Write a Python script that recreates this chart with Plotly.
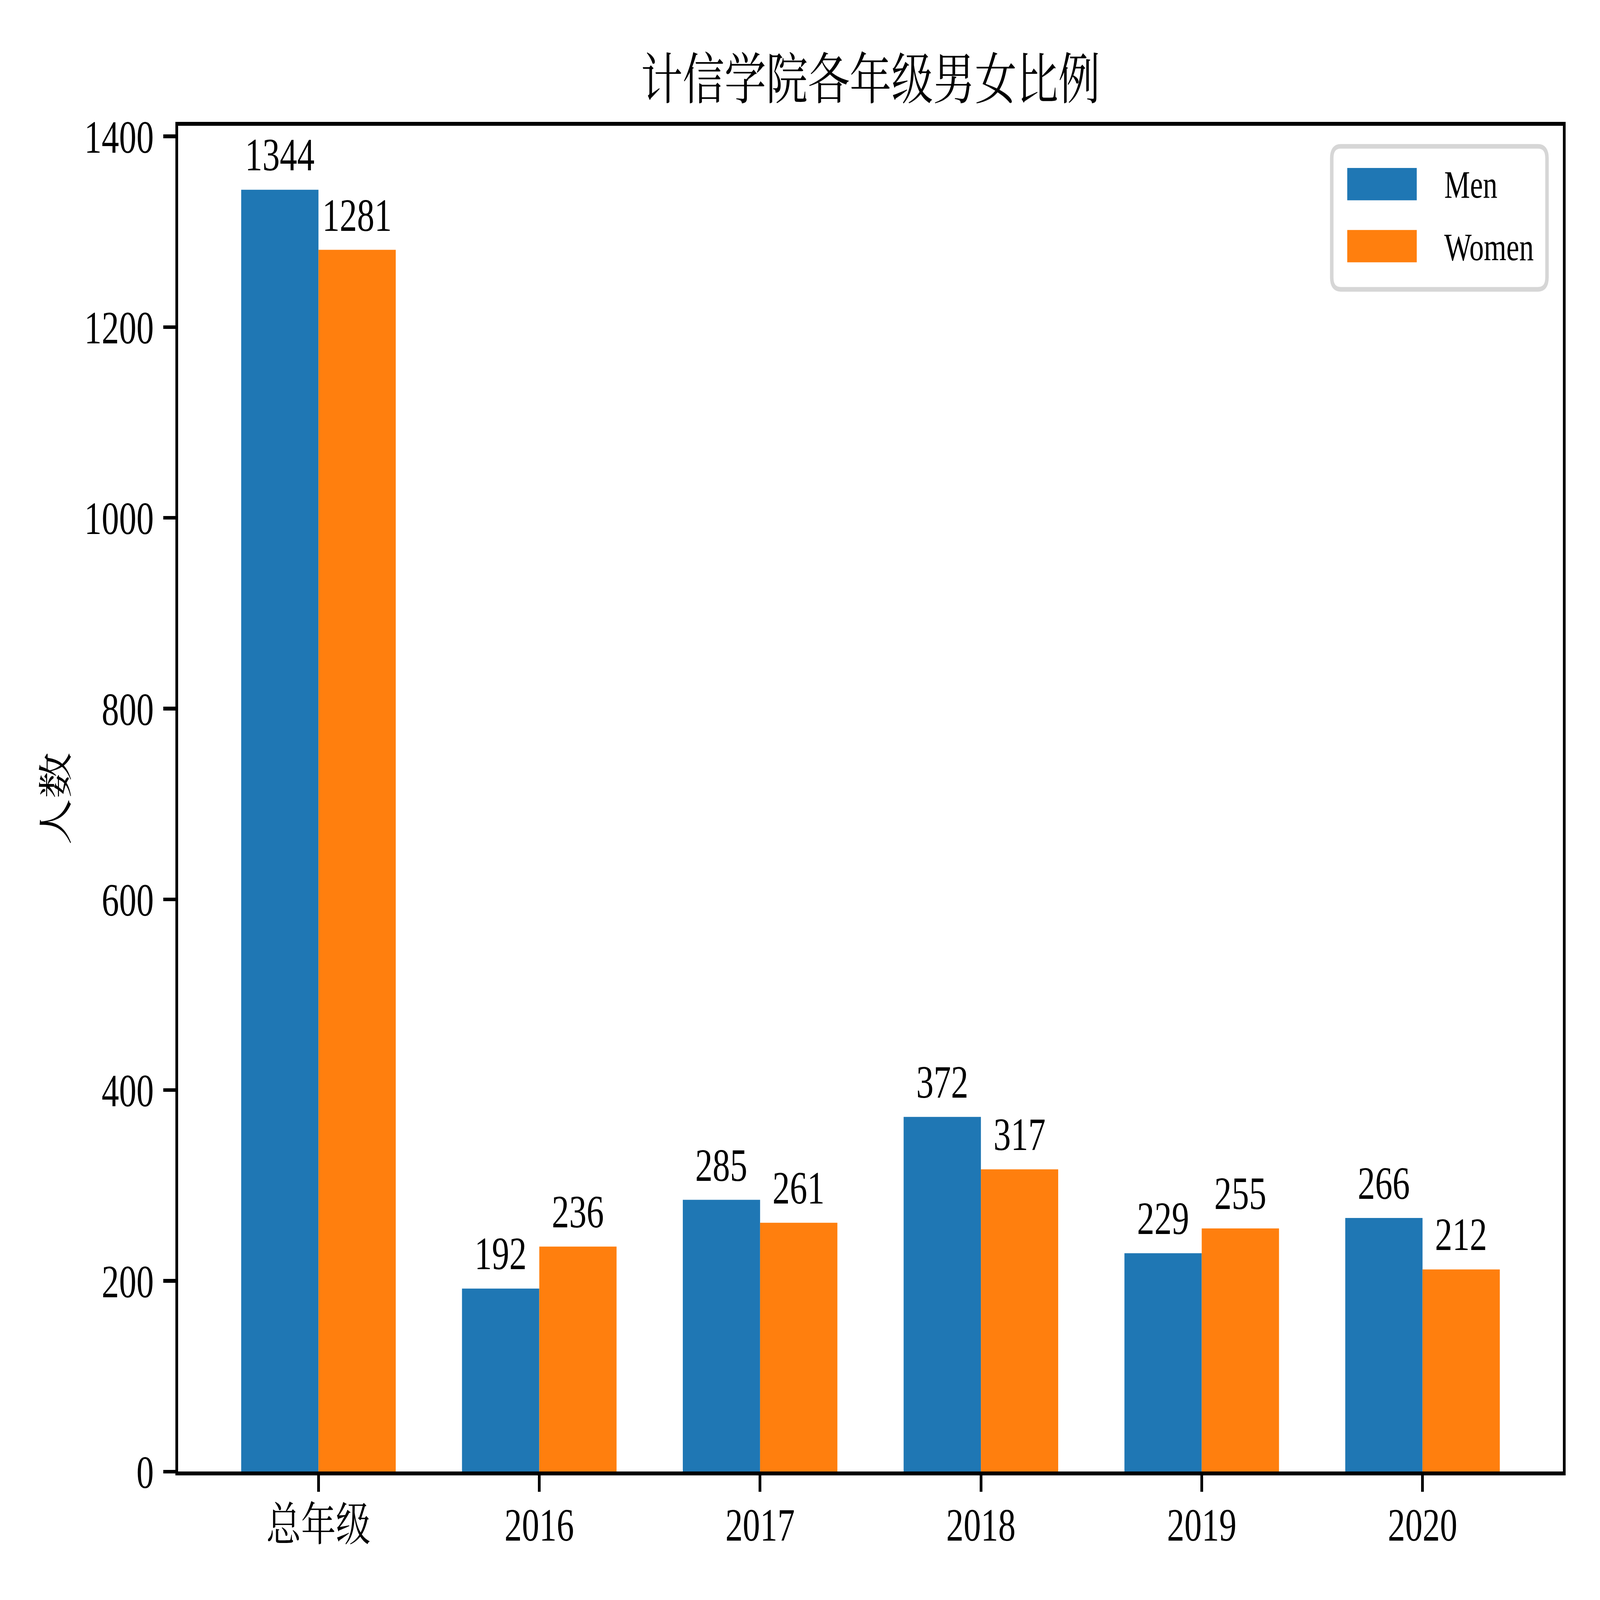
import numpy as np
import plotly.graph_objects as go

# ---- data ----
categories = ["总年级", "2016", "2017", "2018", "2019", "2020"]
men = [1344, 192, 285, 372, 229, 266]
women = [1281, 236, 261, 317, 255, 212]
series_names = ["Men", "Women"]
y_ticks = [0, 200, 400, 600, 800, 1000, 1200, 1400]
title_text = "计信学院各年级男女比例"
ylabel_text = "人数"

# ---- style ----
W, H = 6400, 4800
L, R, T, B = 713, 6251, 377, 4415
colors = ["#1f77b4", "#ff7f0e"]
bar_w = 0.35
FONT = "Liberation Serif, Noto Serif CJK SC, Noto Sans CJK SC, serif"
FS = 139
FS_T = 167
FS_LEG = 116

idx = np.arange(len(categories))
x_men = idx - bar_w / 2
x_women = idx + bar_w / 2
ymax = max(max(men), max(women)) * 1.05
span = len(categories) - 1 + 2 * bar_w
xmin = -bar_w - 0.05 * span
xmax = len(categories) - 1 + bar_w + 0.05 * span

fig = go.Figure()
for xs, vals, name, c in [(x_men, men, series_names[0], colors[0]),
                          (x_women, women, series_names[1], colors[1])]:
    fig.add_trace(go.Bar(x=xs, y=vals, width=bar_w, name=name,
                         marker=dict(color=c, line=dict(width=0)),
                         showlegend=False))

annotations = []
for xs, vals in [(x_men, men), (x_women, women)]:
    for x, v in zip(xs, vals):
        annotations.append(dict(x=x, y=v, xref="x", yref="y", text=str(v),
                                showarrow=False, yanchor="bottom",
                                xanchor="center", yshift=26,
                                font=dict(family=FONT, size=FS, color="black")))

def px2paper_x(px):
    return (px - L) / (R - L)

def px2paper_y(py):
    return (B - py) / (B - T)

# legend (drawn manually to match matplotlib proportions)
shapes = []
bx0, bx1, by0, by1, rad = 5327, 6188, 439, 868, 36
pts = [("M", [(bx0 + rad, by0)]), ("L", [(bx1 - rad, by0)]), ("Q", [(bx1, by0), (bx1, by0 + rad)]),
       ("L", [(bx1, by1 - rad)]), ("Q", [(bx1, by1), (bx1 - rad, by1)]), ("L", [(bx0 + rad, by1)]),
       ("Q", [(bx0, by1), (bx0, by1 - rad)]), ("L", [(bx0, by0 + rad)]), ("Q", [(bx0, by0), (bx0 + rad, by0)])]
path = " ".join(cmd + " " + " ".join(f"{px2paper_x(a):.5f},{px2paper_y(b):.5f}" for a, b in p)
                for cmd, p in pts) + " Z"
shapes.append(dict(type="path", xref="paper", yref="paper", path=path,
                   fillcolor="white", line=dict(color="#d6d6d6", width=14), layer="above"))
legend_rows = [(504, 601), (690, 787)]
for (y0, y1), name, c in zip(legend_rows, series_names, colors):
    shapes.append(dict(type="rect", xref="paper", yref="paper",
                       x0=px2paper_x(5389), x1=px2paper_x(5667),
                       y0=px2paper_y(y1), y1=px2paper_y(y0),
                       fillcolor=c, line=dict(width=0), layer="above"))
    annotations.append(dict(x=px2paper_x(5775), y=px2paper_y((y0 + y1) / 2 + 2),
                            xref="paper", yref="paper", text=name, showarrow=False,
                            xanchor="left", yanchor="middle",
                            font=dict(family=FONT, size=FS_LEG, color="black")))

fig.update_layout(
    width=W, height=H,
    margin=dict(l=L, r=W - R, t=T, b=H - B, pad=0),
    paper_bgcolor="white", plot_bgcolor="white",
    barmode="overlay",
    title=dict(text=title_text, x=(L + R) / 2 / W, xanchor="center",
               y=1 - 238 / H, yanchor="middle",
               font=dict(family=FONT, size=FS_T, color="black")),
    font=dict(family=FONT, size=FS, color="black"),
    annotations=annotations,
    shapes=shapes,
)
fig.update_xaxes(range=[xmin, xmax], tickvals=list(idx), ticktext=categories,
                 showgrid=False, zeroline=False, showline=True, linecolor="black",
                 linewidth=11, mirror=True, ticks="outside", ticklen=49,
                 tickwidth=11, tickcolor="black", ticklabelstandoff=-20,
                 tickfont=dict(family=FONT, size=FS, color="black"))
fig.update_yaxes(range=[0, ymax], tickvals=y_ticks, ticktext=[str(v) for v in y_ticks],
                 showgrid=False, zeroline=False, showline=True, linecolor="black",
                 linewidth=11, mirror=True, ticks="outside", ticklen=49,
                 tickwidth=11, tickcolor="black", ticklabelstandoff=10,
                 tickfont=dict(family=FONT, size=FS, color="black"),
                 title=dict(text=ylabel_text, standoff=22,
                            font=dict(family=FONT, size=FS, color="black")))

# fit the 6400x4800 figure into the browser viewport if the viewport is smaller
post = """
document.documentElement.style.overflow = 'hidden';
document.body.style.margin = '0';
document.body.style.overflow = 'hidden';
var gd = document.getElementById('{plot_id}');
var sx = window.innerWidth / %d, sy = window.innerHeight / %d;
if (sx < 1 || sy < 1) {
  gd.style.transformOrigin = '0 0';
  gd.style.transform = 'scale(' + Math.min(sx, 1) + ',' + Math.min(sy, 1) + ')';
}
""" % (W, H)
fig.write_html("out.html", post_script=post, config={"displayModeBar": False})
